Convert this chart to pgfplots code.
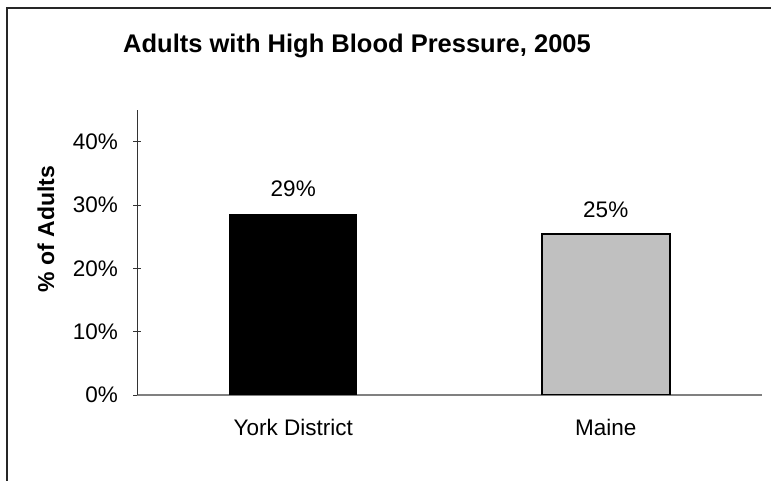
\documentclass[border=0pt]{standalone}
\usepackage{fontspec}
\setmainfont{Liberation Sans}
\usepackage{pgfplots}
\pgfplotsset{compat=1.18}
\definecolor{maine}{RGB}{192,192,192}
\definecolor{axgray}{RGB}{128,128,128}
\begin{document}
\begin{tikzpicture}[x=1pt,y=1pt]
\useasboundingbox (0,0) rectangle (771,481);
\clip (0,0) rectangle (771,481);
% outer frame: only its left and top sides fall inside the picture
\draw[line width=1.4pt, black!85] (7,-5) -- (7,473) -- (780,473);
\node[anchor=base, font=\fontsize{25.5}{30}\selectfont\bfseries] at (357,428) {Adults with High Blood Pressure, 2005};
\node[rotate=90, font=\fontsize{23}{27}\selectfont\bfseries] at (46,252) {\% of Adults};
\begin{axis}[
    at={(137pt,86pt)}, anchor=south west,
    scale only axis,
    width=625pt, height=285pt,
    ybar, bar width=128pt, bar shift=0pt,
    xmin=-0.5, xmax=1.5,
    ymin=0, ymax=45,
    xtick={0,1},
    xticklabels={York District, Maine},
    extra x ticks={-0.5,0.5,1.5},
    extra x tick labels={},
    extra x tick style={major tick length=7pt, tick style={axgray, line width=1pt}},
    ytick={0,10,20,30,40},
    yticklabel={\pgfmathprintnumber{\tick}\%},
    /pgf/number format/assume math mode=true,
    tick align=outside,
    major tick length=7pt,
    x tick style={draw=none},
    y tick style={black!80, line width=0.8pt},
    axis x line=bottom, axis y line=left,
    x axis line style={-, axgray, line width=1.5pt},
    y axis line style={-, black!80, line width=0.8pt},
    tick label style={font=\fontsize{22.5}{27}\selectfont},
    xticklabel style={yshift=-17pt},
    yticklabel style={xshift=-12pt},
    nodes near coords={\pgfmathprintnumber[fixed,precision=0]{\pgfplotspointmeta}\%},
    nodes near coords style={font=\fontsize{22.5}{27}\selectfont, anchor=base, yshift=17pt},
]
\addplot[fill=black, draw=none] coordinates {(0,28.6)};
\addplot[fill=maine, draw=black, line width=1.6pt] coordinates {(1,25.4)};
\end{axis}
\end{tikzpicture}
\end{document}
